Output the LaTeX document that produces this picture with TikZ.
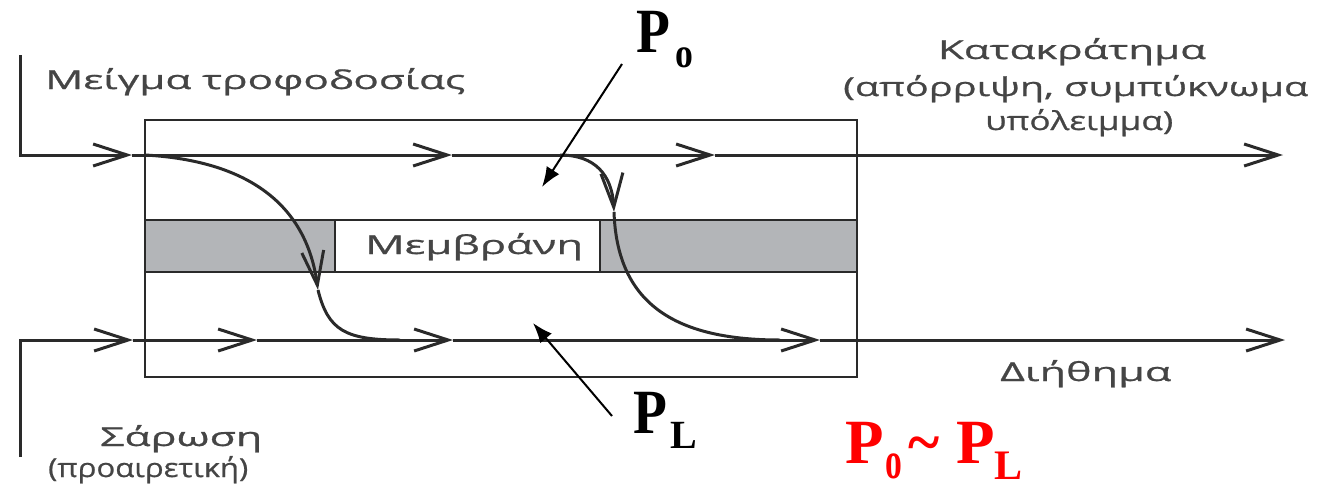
\documentclass[tikz,border=0pt]{standalone}
\usepackage{fontspec}
\usepackage{graphicx}
\usetikzlibrary{arrows.meta}
\newfontfamily\grfont[FakeBold=0.7]{Open Sans}
\newfontfamily\pfont{Liberation Serif}
\definecolor{ln}{HTML}{2A2A2A}
\definecolor{tx}{HTML}{454545}
\definecolor{mg}{HTML}{B3B5B8}
\definecolor{pred}{HTML}{FF0000}
\newcommand\gw[2]{\resizebox{#1}{\height}{#2}}
\begin{document}
\begin{tikzpicture}[x=1pt,y=-1pt,
  flow/.style={draw=ln, line width=3pt,
    -{Straight Barb[length=34pt,width=22pt,line width=3pt]}},
  plain/.style={draw=ln, line width=3pt},
  boxst/.style={draw=ln, line width=2pt, inner sep=0pt},
  lbl/.style={inner sep=0pt, text=tx, font=\grfont\fontsize{26}{30}\selectfont},
  pbig/.style={inner sep=0pt, font=\pfont\bfseries\fontsize{63}{70}\selectfont},
  psub/.style={inner sep=0pt, font=\pfont\bfseries\fontsize{42}{48}\selectfont},
  psubL/.style={inner sep=0pt, font=\pfont\bfseries\fontsize{40}{46}\selectfont},
  parrow/.style={draw=black, line width=2pt, -{Latex[length=20pt,width=15pt]}}]
\useasboundingbox (0,0) rectangle (1321,488);
% module box
\node[boxst, minimum width=712pt, minimum height=257pt] (box) at (501,248.5) {};
% membrane
\node[boxst, fill=mg, minimum width=190pt, minimum height=52pt] (mL) at (240,246) {};
\node[boxst, fill=mg, minimum width=257pt, minimum height=52pt] (mR) at (728.5,246) {};
\node[boxst, fill=white, minimum width=265pt, minimum height=52pt] (mC) at (467.5,246) {};
\node[lbl, anchor=base west] (mtxt) at (365,254) {\gw{218pt}{Μεμβράνη}};
% feed / retentate line
\coordinate (f0) at (20,55);
\coordinate (t1) at (132,155);
\coordinate (t2) at (452,155);
\coordinate (t3) at (715,155);
\coordinate (t4) at (1283,155);
\draw[flow] (f0) |- (t1);
\draw[flow] (t1) -- (t2);
\draw[flow] (t2) -- (t3);
\draw[flow] (t3) -- (t4);
% sweep / permeate line
\coordinate (b0) at (20,457);
\coordinate (u1) at (133,340);
\coordinate (u2) at (257,340);
\coordinate (u3) at (453,340);
\coordinate (u4) at (820,340);
\coordinate (u5) at (1285,340);
\draw[flow] (b0) |- (u1);
\draw[flow] (u1) -- (u2);
\draw[flow] (u2) -- (u3);
\draw[flow] (u3) -- (u4);
\draw[flow] (u4) -- (u5);
% permeation curves
\coordinate (c1s) at (145,155);
\coordinate (c1m) at (318,290);
\coordinate (c1e) at (400,340);
\draw[flow] (c1s) .. controls (235,160) and (305,195) .. (c1m);
\draw[plain] (c1m) .. controls (328,330) and (345,340) .. (c1e);
\coordinate (c2s) at (560,155);
\coordinate (c2m) at (614,212);
\coordinate (c2e) at (780,340);
\draw[flow] (c2s) .. controls (595,155) and (612,175) .. (c2m);
\draw[plain] (c2m) .. controls (617,300) and (670,340) .. (c2e);
% texts
\node[lbl, anchor=base west] (feed) at (45,89) {\gw{420pt}{Μείγμα τροφοδοσίας}};
\node[lbl, anchor=base] (ret1) at (1072,59) {\gw{268pt}{Κατακράτημα}};
\node[lbl, anchor=base west] (ret2) at (843,96) {\gw{465pt}{(απόρριψη, συμπύκνωμα}};
\node[lbl, anchor=base west] (ret3) at (985,130) {\gw{188pt}{υπόλειμμα)}};
\node[lbl, anchor=base west] (perm) at (1000,381) {\gw{171pt}{Διήθημα}};
\node[lbl, anchor=base west] (sw1) at (100,446) {\gw{162pt}{Σάρωση}};
\node[lbl, anchor=base west] (sw2) at (48,477) {\gw{200pt}{(προαιρετική)}};
% pressure labels
\node[pbig, anchor=base west] (Po) at (636,52) {\scalebox{0.88}[1]{P}};
\node[psub, anchor=base west] (Posub) at (675,67) {\scalebox{0.85}[1]{o}};
\node[pbig, anchor=base west] (PL) at (633,433) {\scalebox{0.88}[1]{P}};
\node[psubL, anchor=base west] (PLsub) at (670,448) {L};
\coordinate (poA) at (622,64);
\coordinate (poB) at (542,187);
\draw[parrow] (poA) -- (poB);
\coordinate (plA) at (612,416);
\coordinate (plB) at (533,323);
\draw[parrow] (plA) -- (plB);
% red relation
\node[pbig, text=pred, anchor=base west] (rP1) at (845,463) {P};
\node[psub, text=pred, anchor=base west] (ro) at (885,478) {\scalebox{0.8}[1.25]{o}};
\node[pbig, text=pred, anchor=base west] (rtl) at (908,463) {\scalebox{0.95}[1]{\char`\~}};
\node[pbig, text=pred, anchor=base west] (rP2) at (956,463) {P};
\node[psubL, text=pred, anchor=base west] (rL) at (994,479) {\fontsize{42}{46}\selectfont L};
\end{tikzpicture}
\end{document}
